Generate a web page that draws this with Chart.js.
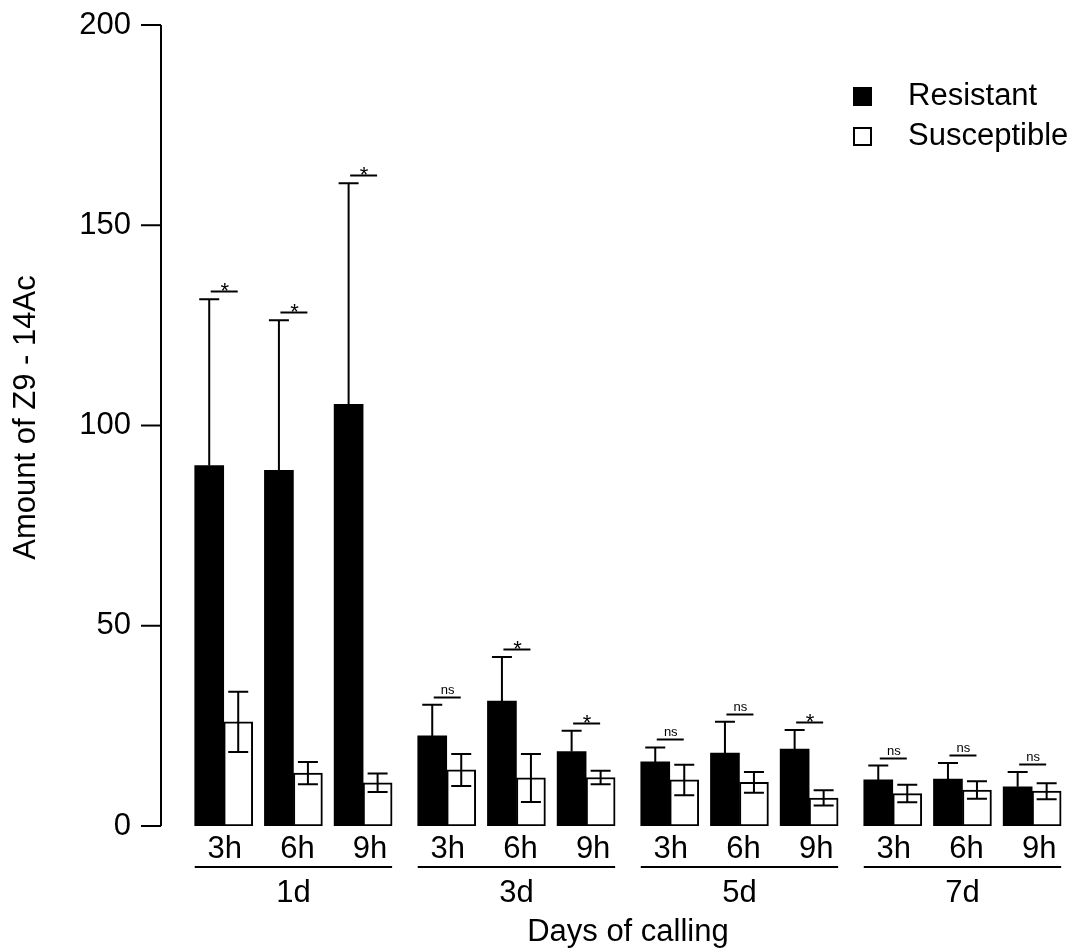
<!DOCTYPE html>
<html>
<head>
<meta charset="utf-8">
<script src="https://cdn.jsdelivr.net/npm/chart.js@4.4.0/dist/chart.umd.min.js"></script>
<style>
  html, body { margin: 0; padding: 0; background: #fff; }
  canvas { display: block; }
</style>
</head>
<body>
<canvas id="chart" width="1078" height="952"></canvas>
<script>
// Chart data
const days = ['1d', '3d', '5d', '7d'];
const hours = ['3h', '6h', '9h'];
const resistant = [90, 88.8, 105.3, 22.5, 31.2, 18.6, 16, 18.2, 19.2, 11.5, 11.7, 9.8];
const resistantErr = [41.5, 37.5, 55.2, 7.8, 11, 5.2, 3.6, 7.8, 4.8, 3.6, 4, 3.7];
const susceptible = [26, 13.2, 10.8, 14, 12, 12.1, 11.5, 10.9, 7, 8.1, 9, 8.7];
const susceptibleErr = [7.5, 2.8, 2.3, 4, 6, 1.7, 3.8, 2.6, 1.9, 2.2, 2.2, 2];
const significance = ['*', '*', '*', 'ns', '*', '*', 'ns', 'ns', '*', 'ns', 'ns', 'ns'];
const yTicks = [0, 50, 100, 150, 200];
const seriesNames = ['Resistant', 'Susceptible'];

const FONT = '"Liberation Sans", Arial, Helvetica, sans-serif';

// position of each day/hour group on the linear x scale (small gap between days)
function xPos(i) {
    return Math.floor(i / 3) * 3.2 + (i % 3);
}

const annotations = {
    id: 'annotations',
    afterDraw(chart) {
        const ctx = chart.ctx;
        const xs = chart.scales.x;
        const ys = chart.scales.y;
        const area = chart.chartArea;
        const half = 29;

        ctx.save();
        ctx.strokeStyle = '#000';
        ctx.fillStyle = '#000';
        ctx.lineWidth = 2;
        ctx.lineCap = 'butt';

        // error bars + significance marks
        resistant.forEach((val, i) => {
            const cx = xs.getPixelForValue(xPos(i));
            const bx = cx - half / 2;
            const wx = cx + half / 2;

            // resistant: upper whisker only
            const rTop = ys.getPixelForValue(val + resistantErr[i]);
            ctx.beginPath();
            ctx.moveTo(bx, ys.getPixelForValue(val));
            ctx.lineTo(bx, rTop);
            ctx.moveTo(bx - 10, rTop);
            ctx.lineTo(bx + 10, rTop);
            ctx.stroke();

            // susceptible: both sides
            const sTop = ys.getPixelForValue(susceptible[i] + susceptibleErr[i]);
            const sBot = ys.getPixelForValue(susceptible[i] - susceptibleErr[i]);
            ctx.beginPath();
            ctx.moveTo(wx, sBot);
            ctx.lineTo(wx, sTop);
            ctx.moveTo(wx - 10, sTop);
            ctx.lineTo(wx + 10, sTop);
            ctx.moveTo(wx - 10, sBot);
            ctx.lineTo(wx + 10, sBot);
            ctx.stroke();

            // significance line just above the highest whisker
            const top = Math.max(val + resistantErr[i], susceptible[i] + susceptibleErr[i]) + 2;
            const ly = Math.round(ys.getPixelForValue(top)) + 0.5;
            ctx.beginPath();
            ctx.moveTo(cx - 13, ly);
            ctx.lineTo(cx + 14, ly);
            ctx.stroke();
            ctx.textAlign = 'center';
            ctx.textBaseline = 'alphabetic';
            if (significance[i] === '*') {
                ctx.font = '22px ' + FONT;
                ctx.fillText('*', cx + 1, ly + 6);
            } else {
                ctx.font = '13px ' + FONT;
                ctx.fillText(significance[i], cx + 1, ly - 4);
            }
        });

        // y axis
        const y0 = ys.getPixelForValue(yTicks[0]);
        const y1 = ys.getPixelForValue(yTicks[yTicks.length - 1]);
        ctx.beginPath();
        ctx.moveTo(area.left, y0);
        ctx.lineTo(area.left, y1);
        ctx.stroke();
        ctx.font = '31px ' + FONT;
        ctx.textAlign = 'right';
        ctx.textBaseline = 'middle';
        yTicks.forEach(t => {
            const ty = ys.getPixelForValue(t);
            ctx.beginPath();
            ctx.moveTo(area.left - 20, ty);
            ctx.lineTo(area.left, ty);
            ctx.stroke();
            ctx.fillText(String(t), area.left - 30, ty);
        });

        // y title
        ctx.save();
        ctx.translate(26, (area.top + area.bottom) / 2 - 8);
        ctx.rotate(-Math.PI / 2);
        ctx.textAlign = 'center';
        ctx.textBaseline = 'middle';
        ctx.fillText('Amount of Z9 - 14Ac', 0, 0);
        ctx.restore();

        // hour labels, day underlines, day labels
        ctx.textAlign = 'center';
        ctx.textBaseline = 'middle';
        resistant.forEach((_, i) => {
            const cx = xs.getPixelForValue(xPos(i));
            ctx.fillText(hours[i % 3], cx + 1 + (i % 3) * 3, area.bottom + 23);
        });
        days.forEach((d, k) => {
            const left = xs.getPixelForValue(xPos(k * 3)) - half;
            const right = xs.getPixelForValue(xPos(k * 3 + 2)) + half;
            ctx.beginPath();
            ctx.moveTo(left, area.bottom + 41);
            ctx.lineTo(right, area.bottom + 41);
            ctx.stroke();
            ctx.fillText(d, (left + right) / 2, area.bottom + 67);
        });
        const midX = (xs.getPixelForValue(xPos(0)) + xs.getPixelForValue(xPos(11))) / 2;
        ctx.fillText('Days of calling', midX, area.bottom + 106);

        // legend
        ctx.textAlign = 'left';
        ctx.fillRect(853, 87, 19, 19);
        ctx.fillText(seriesNames[0], 908, 96);
        ctx.fillStyle = '#fff';
        ctx.fillRect(854, 128, 17, 17);
        ctx.strokeRect(854, 128, 17, 17);
        ctx.fillStyle = '#000';
        ctx.fillText(seriesNames[1], 908, 136);

        ctx.restore();
    }
};

const ctx = document.getElementById('chart').getContext('2d');
const chart = new Chart(ctx, {
    type: 'bar',
    data: {
        datasets: [
            {
                label: seriesNames[0],
                data: resistant.map((v, i) => ({ x: xPos(i), y: v })),
                backgroundColor: '#000',
                borderColor: '#000',
                borderWidth: 0,
                barThickness: 29
            },
            {
                label: seriesNames[1],
                data: susceptible.map((v, i) => ({ x: xPos(i), y: v })),
                backgroundColor: '#fff',
                borderColor: '#000',
                borderWidth: 2,
                borderSkipped: false,
                barThickness: 29
            }
        ]
    },
    options: {
        responsive: false,
        animation: false,
        layout: { padding: { left: 161, right: 11, top: 25, bottom: 126 } },
        plugins: {
            legend: { display: false },
            tooltip: { enabled: false }
        },
        scales: {
            x: { type: 'linear', display: false, offset: false, min: -0.9, max: 12.1 },
            y: { display: false, min: 0, max: 200 }
        }
    },
    plugins: [annotations]
});
</script>
</body>
</html>
